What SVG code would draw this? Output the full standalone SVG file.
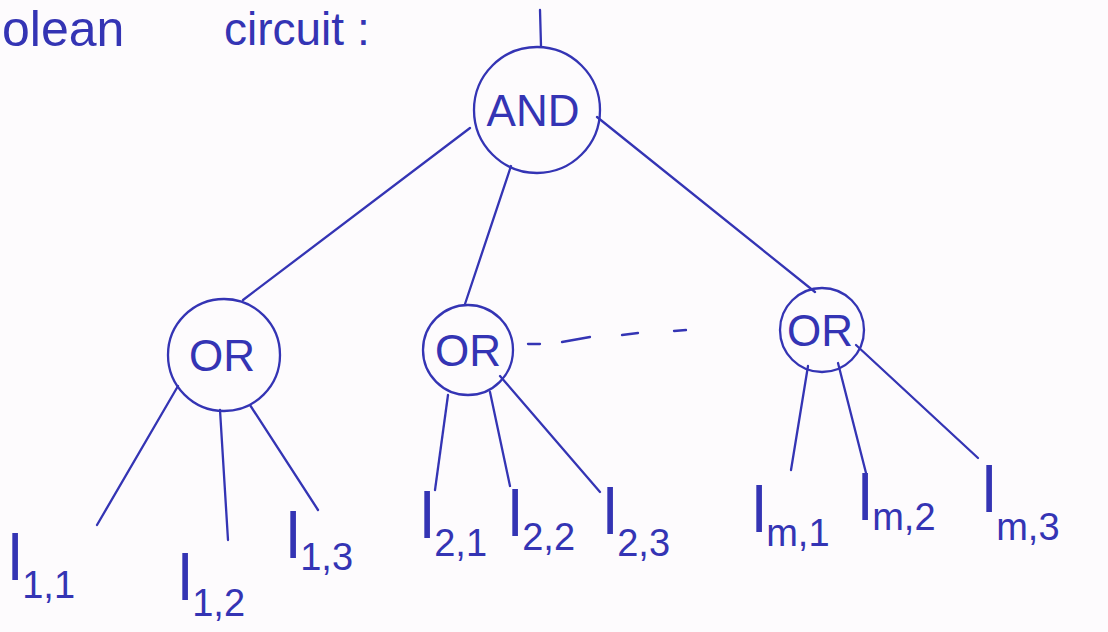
<svg xmlns="http://www.w3.org/2000/svg" width="1108" height="632" viewBox="0 0 1108 632">
<style>
.ink{fill:none;stroke:#3434b4;stroke-width:2.3;stroke-linecap:round}
.lbl{font-family:"Liberation Sans",Arial,sans-serif;fill:#3434b4}
.gate{font-family:"Liberation Sans",Arial,sans-serif;fill:#3434b4;font-size:44px;text-anchor:middle}
.l{font-size:64px}
.s{font-size:38px}
</style>
<rect width="1108" height="632" fill="#fdfbfd"/>
<text class="lbl" x="2" y="46" font-size="50">olean</text>
<text class="lbl" x="224" y="45" font-size="46">circuit :</text>
<g id="connectors">
<line class="ink" x1="540" y1="10" x2="541" y2="46"/>
<line class="ink" x1="470" y1="128" x2="243" y2="300"/>
<line class="ink" x1="511" y1="166" x2="465" y2="304"/>
<line class="ink" x1="597" y1="117" x2="815" y2="292"/>
<line class="ink" x1="178" y1="386" x2="97" y2="525"/>
<line class="ink" x1="220" y1="410" x2="228" y2="540"/>
<line class="ink" x1="250" y1="405" x2="318" y2="510"/>
<line class="ink" x1="448" y1="395" x2="435" y2="490"/>
<line class="ink" x1="490" y1="392" x2="510" y2="486"/>
<line class="ink" x1="500" y1="376" x2="600" y2="492"/>
<line class="ink" x1="808" y1="366" x2="791" y2="470"/>
<line class="ink" x1="838" y1="363" x2="866" y2="473"/>
<line class="ink" x1="856" y1="345" x2="978" y2="458"/>
<line class="ink" x1="528" y1="344" x2="540" y2="344"/>
<line class="ink" x1="562" y1="342" x2="590" y2="337"/>
<line class="ink" x1="622" y1="335" x2="638" y2="333"/>
<line class="ink" x1="674" y1="331" x2="686" y2="330"/>
</g>
<g id="and"><circle class="ink" cx="537" cy="110" r="63"/><text class="gate" x="533" y="126">AND</text></g>
<g id="or1"><circle class="ink" cx="224" cy="355" r="56"/><text class="gate" x="222" y="371">OR</text></g>
<g id="or2"><circle class="ink" cx="468" cy="350" r="45"/><text class="gate" x="468" y="366">OR</text></g>
<g id="or3"><circle class="ink" cx="822" cy="330" r="42"/><text class="gate" x="820" y="346">OR</text></g>
<g id="leaf11"><text class="lbl" x="8" y="580"><tspan class="l">l</tspan><tspan class="s" dy="18">1,1</tspan></text></g>
<g id="leaf12"><text class="lbl" x="178" y="600"><tspan class="l">l</tspan><tspan class="s" dy="16">1,2</tspan></text></g>
<g id="leaf13"><text class="lbl" x="286" y="558"><tspan class="l">l</tspan><tspan class="s" dy="12">1,3</tspan></text></g>
<g id="leaf21"><text class="lbl" x="420" y="538"><tspan class="l">l</tspan><tspan class="s" dy="18">2,1</tspan></text></g>
<g id="leaf22"><text class="lbl" x="508" y="536"><tspan class="l">l</tspan><tspan class="s" dy="14">2,2</tspan></text></g>
<g id="leaf23"><text class="lbl" x="603" y="534"><tspan class="l">l</tspan><tspan class="s" dy="22">2,3</tspan></text></g>
<g id="leafm1"><text class="lbl" x="752" y="532"><tspan class="l">l</tspan><tspan class="s" dy="14">m,1</tspan></text></g>
<g id="leafm2"><text class="lbl" x="858" y="520"><tspan class="l">l</tspan><tspan class="s" dy="10">m,2</tspan></text></g>
<g id="leafm3"><text class="lbl" x="982" y="512"><tspan class="l">l</tspan><tspan class="s" dy="28">m,3</tspan></text></g>
</svg>
